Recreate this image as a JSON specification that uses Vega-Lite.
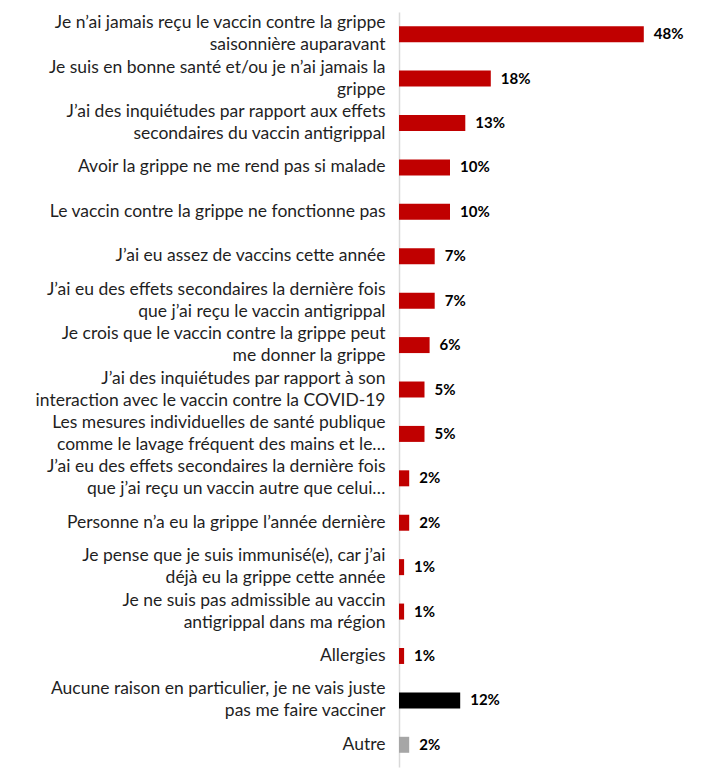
{
  "$schema": "https://vega.github.io/schema/vega-lite/v6.json",
  "autosize": "none",
  "padding": {"left": 399, "top": 12, "right": 18, "bottom": 1},
  "width": 306,
  "height": 755,
  "background": "white",
  "config": {"view": {"stroke": null}, "font": "Lato"},
  "data": {"values": [
    {"label": "Je n’ai jamais reçu le vaccin contre la grippe|saisonnière auparavant", "value": 0.48, "group": "raison"},
    {"label": "Je suis en bonne santé et/ou je n’ai jamais la|grippe", "value": 0.18, "group": "raison"},
    {"label": "J’ai des inquiétudes par rapport aux effets|secondaires du vaccin antigrippal", "value": 0.13, "group": "raison"},
    {"label": "Avoir la grippe ne me rend pas si malade", "value": 0.10, "group": "raison"},
    {"label": "Le vaccin contre la grippe ne fonctionne pas", "value": 0.10, "group": "raison"},
    {"label": "J’ai eu assez de vaccins cette année", "value": 0.07, "group": "raison"},
    {"label": "J’ai eu des effets secondaires la dernière fois|que j’ai reçu le vaccin antigrippal", "value": 0.07, "group": "raison"},
    {"label": "Je crois que le vaccin contre la grippe peut|me donner la grippe", "value": 0.06, "group": "raison"},
    {"label": "J’ai des inquiétudes par rapport à son|interaction avec le vaccin contre la COVID-19", "value": 0.05, "group": "raison"},
    {"label": "Les mesures individuelles de santé publique|comme le lavage fréquent des mains et le…", "value": 0.05, "group": "raison"},
    {"label": "J’ai eu des effets secondaires la dernière fois|que j’ai reçu un vaccin autre que celui…", "value": 0.02, "group": "raison"},
    {"label": "Personne n’a eu la grippe l’année dernière", "value": 0.02, "group": "raison"},
    {"label": "Je pense que je suis immunisé(e), car j’ai|déjà eu la grippe cette année", "value": 0.01, "group": "raison"},
    {"label": "Je ne suis pas admissible au vaccin|antigrippal dans ma région", "value": 0.01, "group": "raison"},
    {"label": "Allergies", "value": 0.01, "group": "raison"},
    {"label": "Aucune raison en particulier, je ne vais juste|pas me faire vacciner", "value": 0.12, "group": "aucune"},
    {"label": "Autre", "value": 0.02, "group": "autre"}
  ]},
  "encoding": {
    "y": {
      "field": "label", "type": "nominal", "sort": null,
      "scale": {"paddingInner": 0.64, "paddingOuter": 0.32},
      "axis": {
        "title": null, "ticks": false, "domainColor": "#D9D9D9", "domainWidth": 1.5,
        "labelExpr": "split(datum.value, '|')",
        "labelFontSize": 17.5, "labelColor": "#1F1F1F", "labelPadding": 14,
        "labelLineHeight": 22, "labelLimit": 400, "labelFont": "Lato",
        "labelOffset": {"condition": {"test": "indexof(datum.value, '|') >= 0", "value": -11}, "value": 0}
      }
    },
    "x": {"field": "value", "type": "quantitative", "scale": {"domain": [0, 0.6]}, "axis": null}
  },
  "layer": [
    {
      "mark": {"type": "bar"},
      "encoding": {
        "color": {"field": "group", "type": "nominal", "legend": null,
          "scale": {"domain": ["raison", "aucune", "autre"], "range": ["#C00000", "#000000", "#A6A6A6"]}}
      }
    },
    {
      "mark": {"type": "text", "align": "left", "baseline": "middle", "dx": 10, "fontSize": 15, "fontWeight": "bold", "color": "#000000", "font": "Lato"},
      "encoding": {"text": {"field": "value", "type": "quantitative", "format": ".0%"}}
    }
  ]
}
